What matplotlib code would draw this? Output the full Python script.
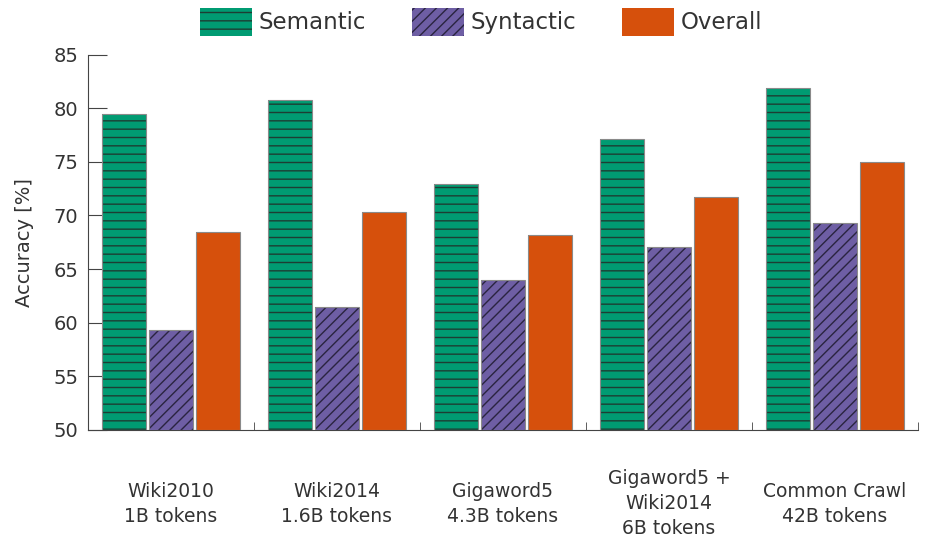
import numpy as np
import matplotlib
matplotlib.use("Agg")
import matplotlib.pyplot as plt

corpora = ["Wiki2010\n1B tokens", "Wiki2014\n1.6B tokens", "Gigaword5\n4.3B tokens",
           "Gigaword5 +\nWiki2014\n6B tokens", "Common Crawl\n42B tokens"]
semantic = [79.5, 80.8, 72.9, 77.1, 81.9]
syntactic = [59.3, 61.5, 64.0, 67.1, 69.3]
overall = [68.5, 70.3, 68.2, 71.7, 75.0]

plt.rcParams['font.family'] = ['DejaVu Sans']
plt.rcParams['hatch.linewidth'] = 1.0

fig = plt.figure(figsize=(9.25, 5.44), dpi=100)
ax = fig.add_axes([0.0951, 0.2096, 0.8973, 0.69])

x = np.arange(len(corpora)) + 0.5
w = 0.26
step = 0.283

series = [
    (semantic, "Semantic", "#009b72", "#1d3d33", "--"),
    (syntactic, "Syntactic", "#6e5ea4", "#2a2440", "///"),
    (overall, "Overall", "#d6500c", "#d6500c", ""),
]
handles = []
for i, (vals, name, col, hcol, hatch) in enumerate(series):
    pos = x + (i - 1) * step
    b = ax.bar(pos, np.array(vals) - 50, w, bottom=50, color=col, edgecolor=hcol,
               linewidth=0, hatch=hatch, zorder=3, label=name)
    ax.bar(pos, np.array(vals) - 50, w, bottom=50, fill=False, edgecolor="#8a8a8a",
           linewidth=0.8, zorder=4)
    handles.append(b)

ax.set_xlim(0, 5)
ax.set_ylim(50, 85)
ax.set_yticks(range(50, 86, 5))
ax.set_ylabel("Accuracy [%]", fontsize=14, color="#333333", labelpad=14)

ax.set_xticks(x)
ax.set_xticklabels(corpora, fontsize=13.5, color="#333333", va="center", linespacing=1.4)
ax.set_xticks(np.arange(0, 6), minor=True)
ax.tick_params(axis="x", which="major", length=0, pad=53)
ax.tick_params(axis="x", which="minor", direction="in", length=6, color="#444444")
ax.tick_params(axis="y", direction="in", length=14, labelsize=14, labelcolor="#333333",
               color="#444444", pad=7)

for s in ["top", "right"]:
    ax.spines[s].set_visible(False)
for s in ["left", "bottom"]:
    ax.spines[s].set_color("#444444")

leg = fig.legend(handles=handles, loc="upper center", bbox_to_anchor=(0.52, 1.024),
                 ncol=3, frameon=False, fontsize=16.5, handlelength=2.27,
                 handleheight=1.53, handletextpad=0.3, columnspacing=2.0)
for t in leg.get_texts():
    t.set_color("#333333")

fig.savefig("out.png", dpi=100)
